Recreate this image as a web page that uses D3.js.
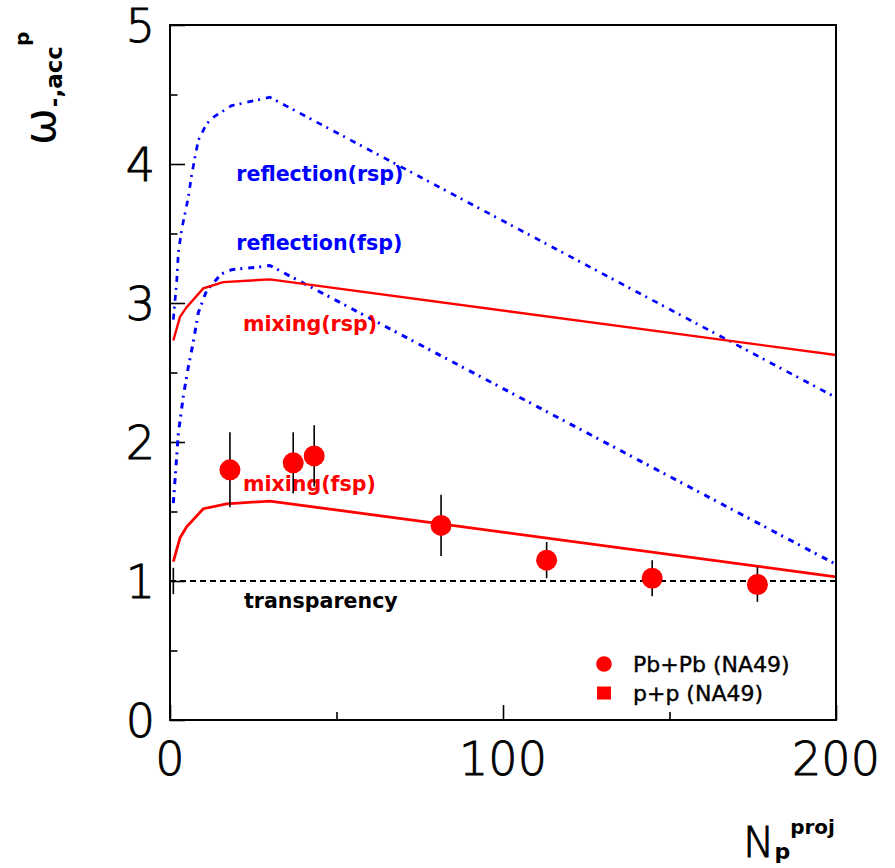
<!DOCTYPE html>
<html>
<head>
<meta charset="utf-8">
<script src="https://cdn.jsdelivr.net/npm/d3@7/dist/d3.min.js"></script>
<style>
  html, body { margin: 0; padding: 0; background: #fff; }
  svg { display: block; }
</style>
</head>
<body>
<svg id="chart" width="895" height="868"></svg>
<script>
// Axis ranges and ticks
const xDomain = [0, 200];
const yDomain = [0, 5];
const xTickLabels = [0, 100, 200];
const yTickLabels = [0, 1, 2, 3, 4, 5];

// Model curves: omega vs number of projectile participants
const mixingFspN = [1, 3, 5, 10, 17, 30, 200];
const mixingFspW = [1.14, 1.31, 1.39, 1.52, 1.555, 1.575, 1.03];

const mixingRspN = [1, 3, 5, 10, 16, 30, 200];
const mixingRspW = [2.73, 2.90, 2.97, 3.105, 3.15, 3.17, 2.626];

const reflectionRspN = [1, 2, 2.5, 3.5, 4.3, 5.5, 6.5, 7.5, 8.5, 11, 13.5, 18.5, 30, 200];
const reflectionRspW = [2.88, 3.15, 3.36, 3.53, 3.62, 3.76, 3.92, 4.05, 4.17, 4.29, 4.345, 4.42, 4.48, 2.32];

const reflectionFspN = [1, 2.5, 4, 5.5, 7, 8.5, 11, 15.5, 18.5, 27, 30, 200];
const reflectionFspW = [1.56, 2.06, 2.33, 2.54, 2.72, 2.93, 3.09, 3.21, 3.24, 3.26, 3.27, 1.12];

const transparencyN = [0, 200];
const transparencyW = [1, 1];

// NA49 measurements
const pbpbN = [18, 37, 43.3, 81.4, 113.1, 144.8, 176.4];
const pbpbW = [1.80, 1.85, 1.90, 1.40, 1.15, 1.02, 0.975];
const pbpbErr = [0.27, 0.22, 0.22, 0.22, 0.13, 0.13, 0.125];

const ppN = [1];
const ppW = [1.0];
const ppErr = [0.095];

// Curve labels
const curveLabels = [
  { text: "reflection(rsp)", n: 19.9, w: 3.88, color: "#0000ff" },
  { text: "reflection(fsp)", n: 19.9, w: 3.38, color: "#0000ff" },
  { text: "mixing(rsp)", n: 21.9, w: 2.80, color: "#ff0000" },
  { text: "mixing(fsp)", n: 21.9, w: 1.647, color: "#ff0000" },
  { text: "transparency", n: 22.2, w: 0.805, color: "#000000" }
];

const legendItems = [
  { text: "Pb+Pb (NA49)", shape: "circle" },
  { text: "p+p (NA49)", shape: "square" }
];

const svg = d3.select("#chart");
const frameLeft = 170, frameRight = 836, frameTop = 25, frameBottom = 720;

const x = d3.scaleLinear().domain(xDomain).range([frameLeft, frameRight]);
const y = d3.scaleLinear().domain(yDomain).range([frameBottom, frameTop]);

const tickFont = "'DejaVu Sans', sans-serif";
const labelFont = "'DejaVu Sans', sans-serif";

// Inside ticks on left and bottom axes
const yAxis = d3.axisRight(y)
  .tickValues(d3.range(0, 5.01, 0.5))
  .tickSize(0)
  .tickFormat("");
const gy = svg.append("g").attr("transform", `translate(${frameLeft},0)`).call(yAxis);
gy.select(".domain").remove();
gy.selectAll(".tick line")
  .attr("x2", d => Math.abs(d - Math.round(d)) < 1e-6 ? 15 : 7.5)
  .attr("stroke", "#000").attr("stroke-width", 1.6);

const xAxis = d3.axisTop(x)
  .tickValues(d3.range(0, 200.1, 50))
  .tickSize(0)
  .tickFormat("");
const gx = svg.append("g").attr("transform", `translate(0,${frameBottom})`).call(xAxis);
gx.select(".domain").remove();
gx.selectAll(".tick line")
  .attr("y2", d => d % 100 === 0 ? -15 : -8)
  .attr("stroke", "#000").attr("stroke-width", 1.6);

// Tick labels (thin face, slightly thickened by an outline)
const tickText = sel => sel
  .attr("font-family", tickFont).attr("font-weight", 200).attr("font-size", 46)
  .attr("stroke", "#000").attr("stroke-width", 0.9);

svg.append("g").selectAll("text").data(yTickLabels).join("text")
  .attr("x", frameLeft - 15).attr("y", d => y(d)).attr("dy", "0.36em")
  .attr("text-anchor", "end")
  .call(tickText)
  .text(d => d);

svg.append("g").selectAll("text").data(xTickLabels).join("text")
  .attr("x", d => x(d)).attr("y", 775)
  .attr("text-anchor", "middle")
  .call(tickText)
  .text(d => d);

// Curves
const line = d3.line().x(d => x(d[0])).y(d => y(d[1]));
const zip = (a, b) => a.map((v, i) => [v, b[i]]);

const plot = svg.append("g");
plot.append("path").datum(zip(transparencyN, transparencyW))
  .attr("d", line).attr("fill", "none").attr("stroke", "#000")
  .attr("stroke-width", 2).attr("stroke-dasharray", "6,4");

plot.append("path").datum(zip(reflectionRspN, reflectionRspW))
  .attr("d", line).attr("fill", "none").attr("stroke", "#0000ff")
  .attr("stroke-width", 2.7).attr("stroke-dasharray", "6,5,2,6");

plot.append("path").datum(zip(reflectionFspN, reflectionFspW))
  .attr("d", line).attr("fill", "none").attr("stroke", "#0000ff")
  .attr("stroke-width", 3).attr("stroke-dasharray", "6,5,2,6");

plot.append("path").datum(zip(mixingRspN, mixingRspW))
  .attr("d", line).attr("fill", "none").attr("stroke", "#ff0000")
  .attr("stroke-width", 2.4);

plot.append("path").datum(zip(mixingFspN, mixingFspW))
  .attr("d", line).attr("fill", "none").attr("stroke", "#ff0000")
  .attr("stroke-width", 2.8);

// Curve labels
svg.append("g").selectAll("text").data(curveLabels).join("text")
  .attr("x", d => x(d.n)).attr("y", d => y(d.w))
  .attr("fill", d => d.color)
  .attr("font-family", labelFont).attr("font-weight", "bold").attr("font-size", 20.6)
  .text(d => d.text);

// Error bars
const pbpb = pbpbN.map((n, i) => ({ n, w: pbpbW[i], e: pbpbErr[i] }));
const pp = ppN.map((n, i) => ({ n, w: ppW[i], e: ppErr[i] }));

svg.append("g").selectAll("line").data(pbpb.concat(pp)).join("line")
  .attr("x1", d => x(d.n)).attr("x2", d => x(d.n))
  .attr("y1", d => y(d.w - d.e)).attr("y2", d => y(d.w + d.e))
  .attr("stroke", "#000").attr("stroke-width", 1.6);

svg.append("g").selectAll("circle").data(pbpb).join("circle")
  .attr("cx", d => x(d.n)).attr("cy", d => y(d.w)).attr("r", 10.5)
  .attr("fill", "#ff0000");

// Frame
svg.append("rect")
  .attr("x", frameLeft).attr("y", frameTop)
  .attr("width", frameRight - frameLeft).attr("height", frameBottom - frameTop)
  .attr("fill", "none").attr("stroke", "#000").attr("stroke-width", 2);

// Legend
const lg = svg.append("g");
legendItems.forEach((d, i) => {
  const cy = 664 + i * 29;
  if (d.shape === "circle") {
    lg.append("circle").attr("cx", 604).attr("cy", cy).attr("r", 7.8).attr("fill", "#ff0000");
  } else {
    lg.append("rect").attr("x", 597).attr("y", cy - 6.5).attr("width", 14).attr("height", 13).attr("fill", "#ff0000");
  }
  lg.append("text").attr("x", 633).attr("y", cy + 8)
    .attr("font-family", labelFont).attr("font-size", 22)
    .attr("stroke", "#000").attr("stroke-width", 0.4)
    .text(d.text);
});

// Axis titles
const yTitle = svg.append("text")
  .attr("transform", "translate(55,145) rotate(-90)")
  .attr("font-family", labelFont).attr("font-weight", "bold");
yTitle.append("tspan").attr("font-size", 44).attr("font-weight", "normal").text("ω");
yTitle.append("tspan").attr("font-size", 23).attr("dy", 7).attr("dx", 1).text("-,acc");
yTitle.append("tspan").attr("font-size", 20).attr("dy", -33).text("p");

const xTitle = svg.append("text")
  .attr("x", 743).attr("y", 857)
  .attr("font-family", labelFont);
xTitle.append("tspan").attr("font-size", 42).attr("font-weight", 200)
  .attr("stroke", "#000").attr("stroke-width", 0.9).text("N");
xTitle.append("tspan").attr("font-size", 22).attr("font-weight", "bold").attr("dy", 2).text("p");
xTitle.append("tspan").attr("font-size", 20).attr("font-weight", "bold").attr("dy", -25).text("proj");
</script>
</body>
</html>
